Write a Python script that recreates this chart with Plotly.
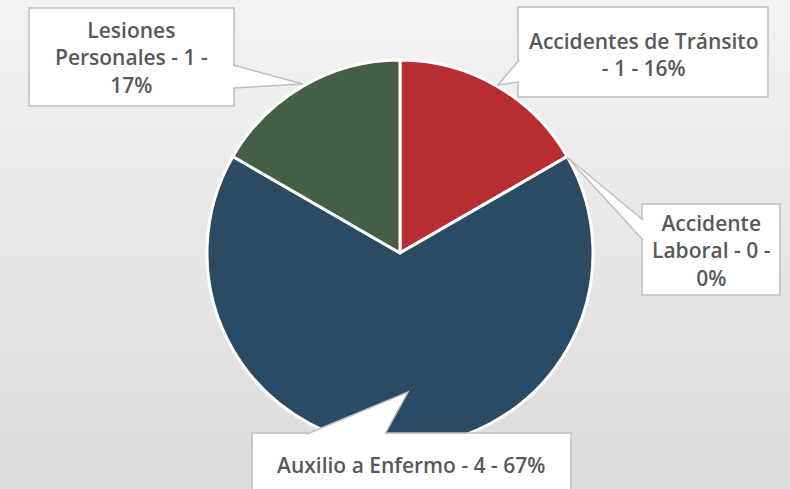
import plotly.graph_objects as go

W, H = 790, 489

categorias = ["Accidentes de Tránsito", "Accidente Laboral", "Auxilio a Enfermo", "Lesiones Personales"]
casos = [1, 0, 4, 1]
porcentajes = ["16%", "0%", "67%", "17%"]
colores = ["#B72D31", "#5B7FA6", "#2B4A63", "#445F45"]

# textos de las etiquetas (con los saltos de línea del original)
etiquetas = [
    f"Accidentes de Tránsito<br>- {casos[0]} - {porcentajes[0]}",
    f"Accidente<br>Laboral - {casos[1]} -<br>{porcentajes[1]}",
    f"Auxilio a Enfermo - {casos[2]} - {porcentajes[2]}",
    f"Lesiones<br>Personales - {casos[3]} -<br>{porcentajes[3]}",
]


def px(x, y):
    return x / W, 1 - y / H


fig = go.Figure(
    go.Pie(
        labels=categorias,
        values=casos,
        sort=False,
        direction="clockwise",
        rotation=0,
        textinfo="none",
        hoverinfo="label+value+percent",
        marker=dict(colors=colores, line=dict(color="white", width=3)),
        domain=dict(x=[207 / W, 593 / W], y=[1 - 446 / H, 1 - 60 / H]),
        showlegend=False,
    )
)

shapes = []

# fondo degradado
n = 40
for i in range(n):
    c = round(243 - (243 - 219) * i / (n - 1))
    shapes.append(dict(
        type="rect", xref="paper", yref="paper", layer="below",
        x0=0, x1=1, y0=1 - (i + 1) / n, y1=1 - i / n + 0.002,
        fillcolor=f"rgb({c},{c},{c})", line=dict(width=0),
    ))

# cajas de las etiquetas: (x0, y0, x1, y1) en pixeles, cuña (base1, punta, base2)
cajas = [
    ((518, 7, 768, 97), ((519, 60), (498, 85), (519, 82))),
    ((642, 204, 780, 295), ((643, 220), (567, 157), (643, 240))),
    ((252, 433, 571, 500), ((307, 434), (408, 392), (385, 434))),
    ((29, 8, 234, 106), ((233, 65), (303, 84), (233, 88))),
]

for (x0, y0, x1, y1), cuna in cajas:
    a, b = px(x0, y0), px(x1, y1)
    shapes.append(dict(
        type="rect", xref="paper", yref="paper", layer="above",
        x0=a[0], y0=b[1], x1=b[0], y1=a[1],
        fillcolor="white", line=dict(color="#BFBFBF", width=1.5),
    ))

for (x0, y0, x1, y1), cuna in cajas:
    pts = [px(*p) for p in cuna]
    path = "M {} {} L {} {} L {} {}".format(pts[0][0], pts[0][1], pts[1][0], pts[1][1], pts[2][0], pts[2][1])
    shapes.append(dict(
        type="path", xref="paper", yref="paper", layer="above", path=path,
        fillcolor="white", line=dict(color="#BFBFBF", width=1.5),
    ))

annotations = []
centros = [(643, 55), (711, 250), (411, 465), (131, 57)]
for texto, (cx, cy) in zip(etiquetas, centros):
    x, y = px(cx, cy)
    annotations.append(dict(
        text=texto, x=x, y=y, xref="paper", yref="paper",
        showarrow=False, xanchor="center", yanchor="middle", align="center",
        font=dict(family="Open Sans", size=21, color="#595959", weight=600),
    ))

fig.update_layout(
    width=W, height=H,
    margin=dict(l=0, r=0, t=0, b=0),
    paper_bgcolor="#E8E8E8",
    plot_bgcolor="#E8E8E8",
    shapes=shapes,
    annotations=annotations,
)

fig.write_html("out.html", config={"displayModeBar": False},
               post_script="document.body.style.margin='0';")
